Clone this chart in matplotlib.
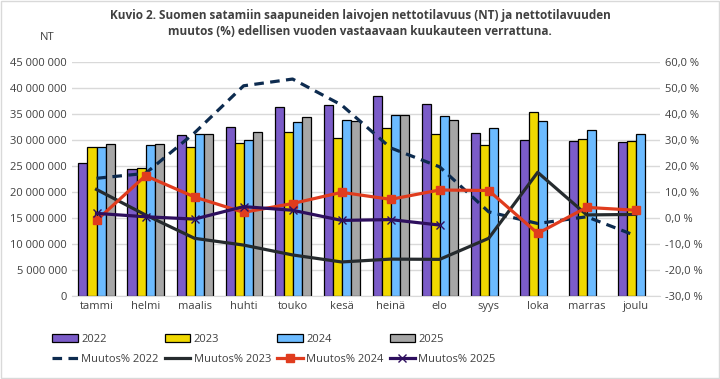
import matplotlib.pyplot as plt
import matplotlib.ticker as mticker
import numpy as np

plt.rcParams['font.family'] = ['Open Sans', 'DejaVu Sans']

months = ['tammi', 'helmi', 'maalis', 'huhti', 'touko', 'kesä',
          'heinä', 'elo', 'syys', 'loka', 'marras', 'joulu']

nt_2022 = [25.6, 24.4, 30.9, 32.6, 36.3, 36.7, 38.4, 36.9, 31.3, 30.1, 29.9, 29.6]
nt_2023 = [28.6, 24.7, 28.6, 29.4, 31.5, 30.5, 32.4, 31.1, 29.0, 35.5, 30.3, 29.9]
nt_2024 = [28.6, 29.0, 31.1, 30.1, 33.4, 33.8, 34.9, 34.6, 32.3, 33.6, 31.9, 31.1]
nt_2025 = [29.2, 29.2, 31.1, 31.5, 34.4, 33.6, 34.9, 33.8]

chg_2022 = [15.3, 17.2, 32.8, 50.9, 53.5, 43.5, 27.0, 19.7, 2.4, -2.1, 0.5, -6.8]
chg_2023 = [11.0, 1.2, -7.8, -10.4, -14.2, -16.9, -15.8, -15.9, -7.8, 17.6, 1.2, 1.4]
chg_2024 = [-0.9, 16.3, 8.1, 2.2, 5.6, 9.9, 7.2, 10.8, 10.6, -5.9, 4.1, 3.0]
chg_2025 = [1.8, 0.5, -0.4, 4.4, 3.0, -0.9, -0.6, -2.7]

fig = plt.figure(figsize=(7.2, 3.79), dpi=100)
ax = fig.add_axes([0.1, 0.219, 0.817, 0.617])
ax2 = ax.twinx()

x = np.arange(len(months))
w = 0.184
bars = [(nt_2022, '#7B5CC8', '2022'), (nt_2023, '#F0D800', '2023'),
        (nt_2024, '#6CBBFF', '2024'), (nt_2025, '#A6A6A6', '2025')]
bar_handles = []
for i, (vals, col, lab) in enumerate(bars):
    xs = x[:len(vals)] + (i - 1.5) * w
    h = ax.bar(xs, np.array(vals) * 1e6, w, color=col, edgecolor='black',
               linewidth=0.9, label=lab, zorder=2)
    bar_handles.append(h)

lines = [(chg_2022, '#0D2B4F', (0, (3, 2)), None, 'Muutos% 2022'),
         (chg_2023, '#262B2E', '-', None, 'Muutos% 2023'),
         (chg_2024, '#E03C1E', '-', 's', 'Muutos% 2024'),
         (chg_2025, '#2E0F5E', '-', 'x', 'Muutos% 2025')]
line_handles = []
for vals, col, ls, mk, lab in lines:
    l, = ax2.plot(x[:len(vals)], vals, color=col, linestyle=ls, linewidth=2.3,
                  marker=mk, markersize=5.5, markeredgewidth=1, label=lab, zorder=3)
    line_handles.append(l)

ax.set_xlim(-0.5, 11.5)
ax.set_ylim(0, 45e6)
ax.set_yticks(np.arange(0, 45e6 + 1, 5e6))
ax.yaxis.set_major_formatter(mticker.FuncFormatter(
    lambda v, p: f'{int(v):,}'.replace(',', ' ')))
ax2.set_ylim(-30, 60)
ax2.set_yticks(np.arange(-30, 61, 10))
ax2.yaxis.set_major_formatter(mticker.FuncFormatter(
    lambda v, p: f'{v:.1f} %'.replace('.', ',')))

ax.set_xticks(x)
ax.set_xticklabels(months)
ax.grid(axis='y', color='#D9D9D9', linewidth=1, zorder=0)
ax.set_axisbelow(True)
for a in (ax, ax2):
    for s in a.spines.values():
        s.set_visible(False)
    a.tick_params(length=0, labelsize=8, colors='#404040')
ax.spines['bottom'].set_visible(True)
ax.spines['bottom'].set_color('#D9D9D9')

fig.text(0.055, 0.895, 'NT', fontsize=8, color='#404040')
fig.suptitle('Kuvio 2. Suomen satamiin saapuneiden laivojen nettotilavuus (NT) ja nettotilavuuden\n'
             'muutos (%) edellisen vuoden vastaavaan kuukauteen verrattuna.',
             x=0.5, y=0.975, fontsize=8.5, fontweight='bold', color='#404040',
             linespacing=1.3)

# legend fills column-wise, so interleave bars and lines
handles = []
for b, l in zip(bar_handles, line_handles):
    handles += [b, l]
fig.legend(handles=handles, loc='lower left', bbox_to_anchor=(0.059, 0.01),
           ncol=4, frameon=False, fontsize=8, handlelength=2.3,
           columnspacing=0.55, handletextpad=0.3, labelspacing=0.85,
           labelcolor='#404040')

fig.patches.append(plt.Rectangle((0.001, 0.002), 0.997, 0.995, transform=fig.transFigure,
                                 fill=False, edgecolor='#D9D9D9', linewidth=1))

fig.savefig('out.png', dpi=100)
